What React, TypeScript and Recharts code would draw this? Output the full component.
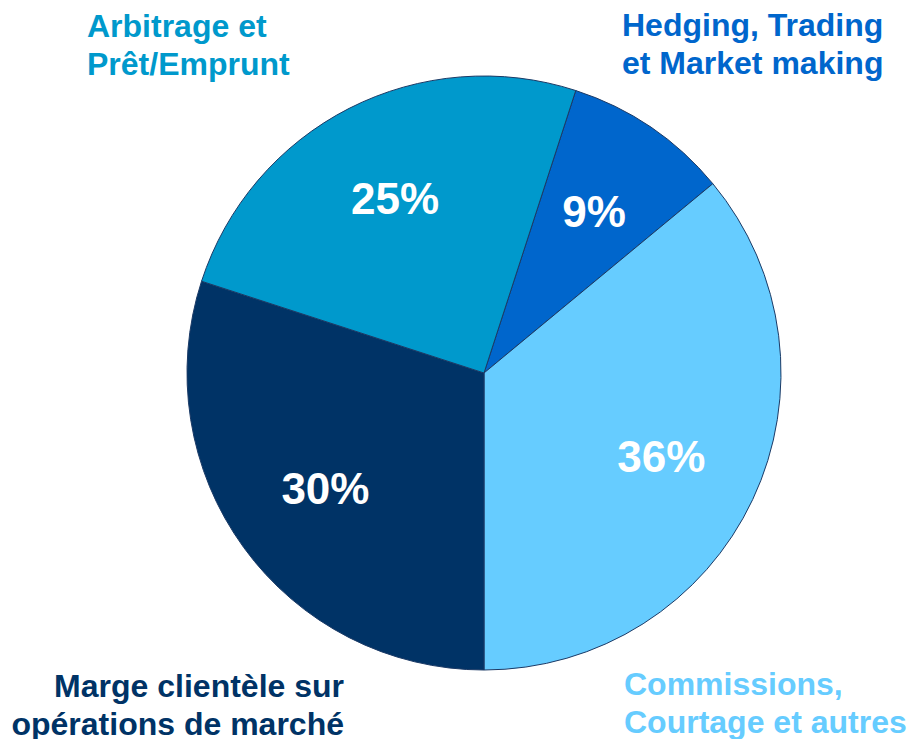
import { PieChart, Pie, Cell } from "recharts";

// segments, clockwise from the top
const categories = [
  "Hedging, Trading et Market making",
  "Commissions, Courtage et autres",
  "Marge clientèle sur opérations de marché",
  "Arbitrage et Prêt/Emprunt",
];
const shares = [9, 36, 30, 25];
const colors = ["#0066CC", "#66CCFF", "#003366", "#0099CC"];

// outer captions, split on two lines
const captionLines = [
  ["Hedging, Trading", "et Market making"],
  ["Commissions,", "Courtage et autres"],
  ["Marge clientèle sur", "opérations de marché"],
  ["Arbitrage et", "Prêt/Emprunt"],
];

const data = categories.map((name, i) => ({ name, value: shares[i] }));

const FONT = "'Liberation Sans', Arial, Helvetica, sans-serif";
const RAD = Math.PI / 180;

// where each caption sits (x, first baseline, anchor)
const captionPos = [
  { x: 622, y: 36, anchor: "start" },
  { x: 624, y: 695, anchor: "start" },
  { x: 344, y: 697, anchor: "end" },
  { x: 87, y: 37, anchor: "start" },
];

const renderPct = (props) => {
  const { cx, cy, midAngle, value } = props;
  const r = 196;
  const x = cx + r * Math.cos(-midAngle * RAD);
  const y = cy + r * Math.sin(-midAngle * RAD);
  return (
    <text
      x={x}
      y={y + 16}
      textAnchor="middle"
      fill="#FFFFFF"
      fontFamily={FONT}
      fontWeight="bold"
      fontSize={44}
    >
      {value}%
    </text>
  );
};

export default function App() {
  return (
    <div
      style={{
        position: "absolute",
        left: 0,
        top: 0,
        width: 908,
        height: 739,
        background: "#fff",
      }}
    >
      <PieChart width={908} height={739} margin={{ top: 0, right: 0, bottom: 0, left: 0 }}>
        <Pie
          data={data}
          dataKey="value"
          nameKey="name"
          cx={484}
          cy={373}
          outerRadius={297}
          startAngle={72}
          endAngle={-288}
          stroke="#1B3A66"
          strokeWidth={1}
          label={renderPct}
          labelLine={false}
          isAnimationActive={false}
        >
          {data.map((d, i) => (
            <Cell key={d.name} fill={colors[i]} />
          ))}
        </Pie>
      </PieChart>
      <svg
        width={908}
        height={739}
        style={{ position: "absolute", left: 0, top: 0, pointerEvents: "none" }}
      >
        {captionLines.map((lines, i) => (
          <text
            key={i}
            x={captionPos[i].x}
            y={captionPos[i].y}
            textAnchor={captionPos[i].anchor}
            fill={colors[i]}
            fontFamily={FONT}
            fontWeight="bold"
            fontSize={32}
          >
            {lines.map((l, j) => (
              <tspan key={j} x={captionPos[i].x} dy={j === 0 ? 0 : 37.5}>
                {l}
              </tspan>
            ))}
          </text>
        ))}
      </svg>
    </div>
  );
}
